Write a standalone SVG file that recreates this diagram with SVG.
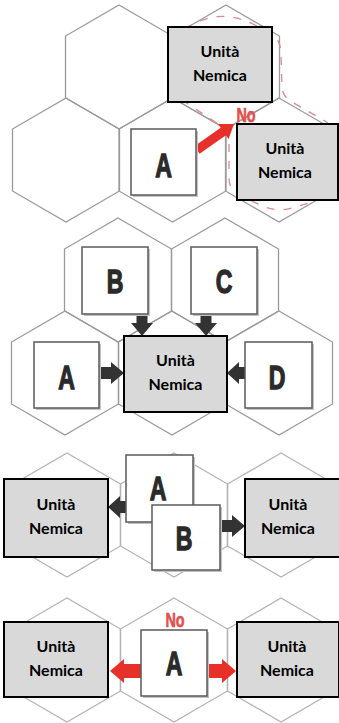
<svg xmlns="http://www.w3.org/2000/svg" xmlns:xlink="http://www.w3.org/1999/xlink" width="339" height="723" viewBox="0 0 339 723">
<defs>
<path id="hex" d="M0,-62 L53.5,-31 L53.5,31 L0,62 L-53.5,31 L-53.5,-31 Z"/>
<style>
.hexA{fill:none;stroke:#9a9a9a;stroke-width:1.3}
.hexB{fill:none;stroke:#b3b3b3;stroke-width:1.3}
.enemy{fill:#d9d9d9;stroke:#000;stroke-width:2}
.etxt{font-family:Lato,"Open Sans",sans-serif;font-weight:bold;font-size:16px;fill:#000;text-anchor:middle}
.unit{fill:#fff;stroke:#5a5a5a;stroke-width:1.5}
.shadow{fill:#c4c4c4}
.utxt{font-family:"Liberation Sans",Arial,sans-serif;font-weight:bold;font-size:33px;fill:#2a2a2a;stroke:#2a2a2a;stroke-width:1.3;text-anchor:middle}
.no{font-family:"Liberation Sans",Arial,sans-serif;font-weight:bold;font-size:20px;fill:#e2504c;stroke:#e2504c;stroke-width:0.6;text-anchor:middle}
.red{fill:#e8302a}
.dark{fill:#333}
.zone{fill:none;stroke:#dc8a8a;stroke-width:1.3;stroke-dasharray:8 9}
</style>
</defs>
<rect width="339" height="723" fill="#fff"/>

<g id="grid">
<use xlink:href="#hex" x="119" y="67" class="hexA"/>
<use xlink:href="#hex" x="226" y="67" class="hexA"/>
<use xlink:href="#hex" x="66" y="160" class="hexA"/>
<use xlink:href="#hex" x="172.5" y="160" class="hexA"/>
<use xlink:href="#hex" x="279" y="160" class="hexA"/>
<use xlink:href="#hex" x="118" y="280" class="hexA"/>
<use xlink:href="#hex" x="225" y="280" class="hexA"/>
<use xlink:href="#hex" x="65" y="373" class="hexA"/>
<use xlink:href="#hex" x="172" y="373" class="hexA"/>
<use xlink:href="#hex" x="279" y="373" class="hexA"/>
<use xlink:href="#hex" x="67" y="515" class="hexB"/>
<use xlink:href="#hex" x="174" y="515" class="hexB"/>
<use xlink:href="#hex" x="281" y="515" class="hexB"/>
<use xlink:href="#hex" x="67" y="660" class="hexB"/>
<use xlink:href="#hex" x="174" y="660" class="hexB"/>
<use xlink:href="#hex" x="281" y="660" class="hexB"/>
</g>

<path id="zone" class="zone" d="M200,21 Q226,10 255,25 L272,34 Q281,40 281,55 L282,88 Q283,97 292,102 L325,121 Q333,126 333,140 L333,185 Q333,193 322,199 L295,207 Q279,213 262,206 L238,194 Q229,189 229,178 L229,140 Q229,131 218,124 L182,100 Q175,95 175,85 L175,42 Q175,33 185,28 Z"/>

<g id="connectors">
<polygon class="red" points="194.4,146.3 220.7,127.8 218.1,124.1 234,124 228.5,138.9 225.9,135.2 199.6,153.7"/>
<polygon class="dark" points="99,367 111,367 111,362 124,373 111,384 111,379 99,379"/>
<polygon class="dark" points="245,367 239,367 239,362 227,373 239,384 239,379 245,379"/>
<polygon class="dark" points="136.5,314 147.5,314 147.5,323 153,323 142,336 131,323 136.5,323"/>
<polygon class="dark" points="200.5,314 211.5,314 211.5,323 217,323 206,336 195,323 200.5,323"/>
<polygon class="dark" points="127,501 120,501 120,496 108,507 120,518 120,513 127,513"/>
<polygon class="dark" points="220,520 232,520 232,515 245,526 232,537 232,532 220,532"/>
<polygon class="red" points="141,664 124,664 124,659 110,671 124,683 124,678 141,678"/>
<polygon class="red" points="207,664 222,664 222,659 236,671 222,683 222,678 207,678"/>
</g>

<text class="no" transform="translate(246,122) scale(0.72,1)">No</text>
<text class="no" transform="translate(175,627) scale(0.72,1)">No</text>

<g id="s1-enemy1"><rect class="enemy" x="168" y="27" width="104" height="75"/><text class="etxt" x="220" y="57">Unità</text><text class="etxt" x="220" y="81">Nemica</text></g>
<g id="s1-enemy2"><rect class="enemy" x="237" y="124" width="101" height="76"/><text class="etxt" x="285" y="154">Unità</text><text class="etxt" x="285" y="178">Nemica</text></g>
<g id="s1-A"><rect class="shadow" x="133" y="131" width="65" height="66"/><rect class="unit" x="131" y="129" width="65" height="66"/><text class="utxt" transform="translate(163.5,177) scale(0.7,1)">A</text></g>

<g id="s2-B"><rect class="shadow" x="84" y="249" width="66" height="67"/><rect class="unit" x="82" y="247" width="66" height="67"/><text class="utxt" transform="translate(115,293) scale(0.7,1)">B</text></g>
<g id="s2-C"><rect class="shadow" x="193" y="249" width="66" height="67"/><rect class="unit" x="191" y="247" width="66" height="67"/><text class="utxt" transform="translate(224,293) scale(0.7,1)">C</text></g>
<g id="s2-A"><rect class="shadow" x="36" y="344" width="65" height="66"/><rect class="unit" x="34" y="342" width="65" height="66"/><text class="utxt" transform="translate(66.5,389) scale(0.7,1)">A</text></g>
<g id="s2-D"><rect class="shadow" x="247" y="344" width="67" height="66"/><rect class="unit" x="245" y="342" width="67" height="66"/><text class="utxt" transform="translate(277,389) scale(0.7,1)">D</text></g>
<g id="s2-enemy"><rect class="enemy" x="124" y="336" width="103" height="76"/><text class="etxt" x="175.5" y="366">Unità</text><text class="etxt" x="175.5" y="390">Nemica</text></g>

<g id="s3-enemyL"><rect class="enemy" x="4" y="479" width="104" height="78"/><text class="etxt" x="56" y="510">Unità</text><text class="etxt" x="56" y="534">Nemica</text></g>
<g id="s3-enemyR"><rect class="enemy" x="245" y="479" width="95" height="78"/><text class="etxt" x="288" y="510">Unità</text><text class="etxt" x="288" y="534">Nemica</text></g>
<g id="s3-A"><rect class="shadow" x="128" y="457" width="67" height="67"/><rect class="unit" x="126" y="455" width="67" height="67"/><text class="utxt" transform="translate(158,500) scale(0.7,1)">A</text></g>
<g id="s3-B"><rect class="shadow" x="154" y="507" width="68" height="65"/><rect class="unit" x="152" y="505" width="68" height="65"/><text class="utxt" transform="translate(184,550) scale(0.7,1)">B</text></g>

<g id="s4-enemyL"><rect class="enemy" x="4" y="622" width="104" height="75"/><text class="etxt" x="56" y="652">Unità</text><text class="etxt" x="56" y="676">Nemica</text></g>
<g id="s4-enemyR"><rect class="enemy" x="237" y="622" width="102" height="75"/><text class="etxt" x="287" y="652">Unità</text><text class="etxt" x="287" y="676">Nemica</text></g>
<g id="s4-A"><rect class="shadow" x="143" y="632" width="66" height="66"/><rect class="unit" x="141" y="630" width="66" height="66"/><text class="utxt" transform="translate(174,675) scale(0.7,1)">A</text></g>
</svg>
